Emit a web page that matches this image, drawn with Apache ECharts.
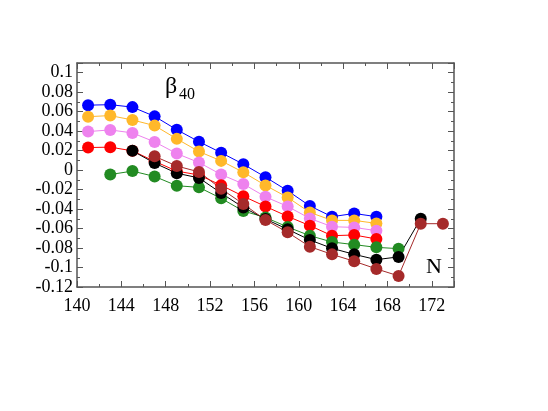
<!DOCTYPE html>
<html>
<head>
<meta charset="utf-8">
<script src="https://cdn.jsdelivr.net/npm/echarts@6/dist/echarts.min.js"></script>
<style>html,body{margin:0;padding:0;background:#fff;}#c{width:548px;height:411px;}</style>
</head>
<body>
<div id="c"></div>
<script>
// Neutron number N (x) and beta_40 values per series
const nBlue   = [141, 143, 145, 147, 149, 151, 153, 155, 157, 159, 161, 163, 165, 167];
const vBlue   = [0.0667, 0.0672, 0.0647, 0.0552, 0.0415, 0.0292, 0.0179, 0.0061, -0.0072, -0.0212, -0.0368, -0.0478, -0.0445, -0.0478];
const nOrange = [141, 143, 145, 147, 149, 151, 153, 155, 157, 159, 161, 163, 165, 167];
const vOrange = [0.0549, 0.0560, 0.0515, 0.0457, 0.0321, 0.0191, 0.0095, -0.0022, -0.0157, -0.0280, -0.0434, -0.0516, -0.0516, -0.0547];
const nViolet = [141, 143, 145, 147, 149, 151, 153, 155, 157, 159, 161, 163, 165, 167];
const vViolet = [0.0396, 0.0413, 0.0382, 0.0290, 0.0170, 0.0078, -0.0045, -0.0142, -0.0274, -0.0373, -0.0496, -0.0581, -0.0588, -0.0622];
const nRed    = [141, 143, 145, 147, 149, 151, 153, 155, 157, 159, 161, 163, 165, 167];
const vRed    = [0.0232, 0.0236, 0.0198, 0.0090, -0.0010, -0.0050, -0.0155, -0.0268, -0.0373, -0.0475, -0.0570, -0.0673, -0.0666, -0.0707];
const nGreen  = [143, 145, 147, 149, 151, 153, 155, 157, 159, 161, 163, 165, 167, 169];
const vGreen  = [-0.0045, -0.0010, -0.0065, -0.0160, -0.0177, -0.0290, -0.0420, -0.0486, -0.0584, -0.0673, -0.0738, -0.0765, -0.0793, -0.0806];
const nBlack  = [145, 147, 149, 151, 153, 155, 157, 159, 161, 163, 165, 167, 169, 171];
const vBlack  = [0.0198, 0.0072, -0.0032, -0.0080, -0.0236, -0.0383, -0.0502, -0.0608, -0.0717, -0.0803, -0.0865, -0.0919, -0.0891, -0.0499];
const nBrown  = [147, 149, 151, 153, 155, 157, 159, 161, 163, 165, 167, 169, 171, 173];
const vBrown  = [0.0142, 0.0042, -0.0018, -0.0192, -0.0348, -0.0512, -0.0639, -0.0786, -0.0865, -0.0936, -0.1014, -0.1086, -0.0550, -0.0550];

const xTicks = [140, 144, 148, 152, 156, 160, 164, 168, 172];
const yTicks = [-0.12, -0.1, -0.08, -0.06, -0.04, -0.02, 0, 0.02, 0.04, 0.06, 0.08, 0.1];

const seriesDefs = [
  {name: 'blue',   n: nBlue,   v: vBlue,   color: '#0000ff'},
  {name: 'orange', n: nOrange, v: vOrange, color: '#ffb82a'},
  {name: 'violet', n: nViolet, v: vViolet, color: '#ee82ee'},
  {name: 'red',    n: nRed,    v: vRed,    color: '#ff0000'},
  {name: 'green',  n: nGreen,  v: vGreen,  color: '#228b22'},
  {name: 'black',  n: nBlack,  v: vBlack,  color: '#000000'},
  {name: 'brown',  n: nBrown,  v: vBrown,  color: '#a52a2a'}
];

const axisColor = '#555';
const font = 'Liberation Serif';

function fmtY(v) {
  const r = Math.round(v * 100) / 100;
  if (!yTicks.some(t => Math.abs(t - r) < 1e-9)) return '';
  return String(parseFloat(r.toFixed(2)));
}
function fmtX(v) {
  return xTicks.indexOf(Math.round(v)) >= 0 ? String(Math.round(v)) : '';
}

const baseX = {
  type: 'value', min: 140, max: 174, interval: 4,
  axisLine: {show: true, onZero: false, lineStyle: {color: axisColor, width: 1.5}},
  axisTick: {show: true, inside: true, length: 6, lineStyle: {color: axisColor, width: 1}},
  minorTick: {show: true, splitNumber: 2, length: 3, lineStyle: {color: axisColor, width: 1}},
  splitLine: {show: false}, minorSplitLine: {show: false}
};
const baseY = {
  type: 'value', min: -0.12, max: 0.11, interval: 0.02,
  axisLine: {show: true, onZero: false, lineStyle: {color: axisColor, width: 1.5}},
  axisTick: {show: true, inside: true, length: 6, lineStyle: {color: axisColor, width: 1}},
  minorTick: {show: true, splitNumber: 2, length: 3, lineStyle: {color: axisColor, width: 1}},
  splitLine: {show: false}, minorSplitLine: {show: false}
};

const chart = echarts.init(document.getElementById('c'), null, {renderer: 'canvas'});
chart.setOption({
  animation: false,
  backgroundColor: '#fff',
  grid: {left: 77, right: 94, top: 63, bottom: 124, containLabel: false},
  xAxis: [
    Object.assign({}, baseX, {position: 'bottom',
      axisLabel: {show: true, margin: 10, fontFamily: font, fontSize: 18, color: '#000', formatter: fmtX, showMaxLabel: false}}),
    Object.assign({}, baseX, {position: 'top', axisLabel: {show: false}})
  ],
  yAxis: [
    Object.assign({}, baseY, {position: 'left',
      axisLabel: {show: true, margin: 4, fontFamily: font, fontSize: 18, color: '#000', formatter: fmtY, showMaxLabel: false}}),
    Object.assign({}, baseY, {position: 'right', axisLabel: {show: false}})
  ],
  series: seriesDefs.map(s => ({
    name: s.name, type: 'line',
    data: s.n.map((n, i) => [n, s.v[i]]),
    symbol: 'circle', symbolSize: 12,
    itemStyle: {color: s.color},
    lineStyle: {color: s.color, width: 1},
    emphasis: {disabled: true}
  })),
  graphic: [
    {type: 'text', left: 165, top: 75, style: {text: 'β', fontFamily: font, fontSize: 24, fill: '#000'}},
    {type: 'text', left: 179, top: 87, style: {text: '40', fontFamily: font, fontSize: 16, fill: '#000'}},
    {type: 'text', left: 426, top: 256, style: {text: 'N', fontFamily: font, fontSize: 22, fill: '#000'}}
  ]
});
</script>
</body>
</html>
